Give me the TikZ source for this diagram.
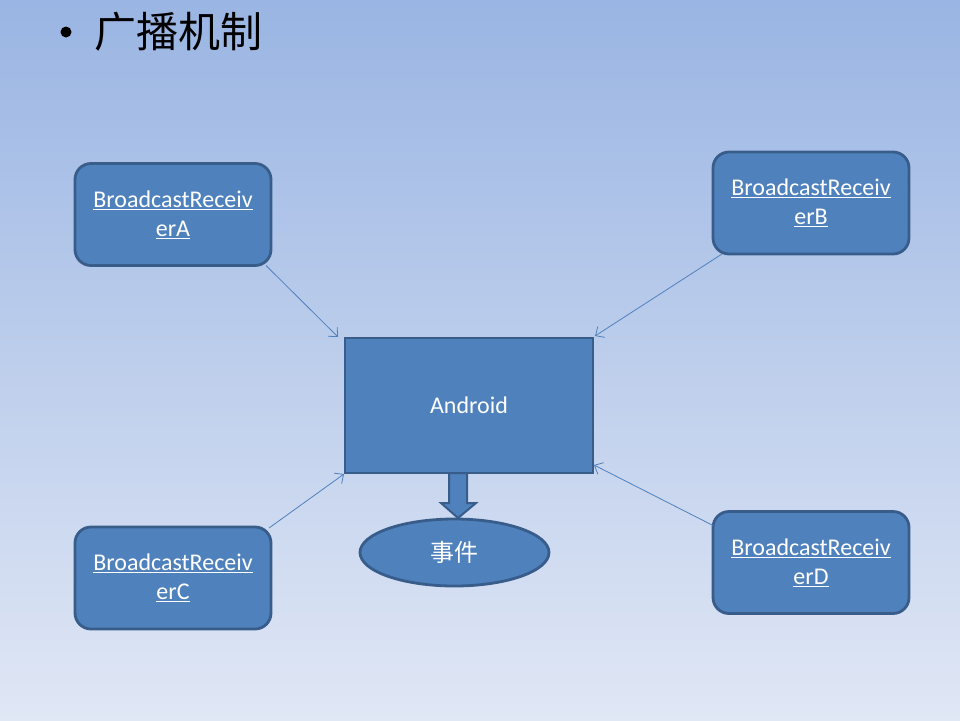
\documentclass[tikz,border=0pt]{standalone}
\usepackage{fontspec}
\setmainfont{Carlito}
\newfontfamily\cjk{Noto Sans CJK SC}
\usetikzlibrary{shapes.geometric,arrows.meta}
\definecolor{boxfill}{HTML}{4F81BD}
\definecolor{boxline}{HTML}{385D8A}
\definecolor{bgtop}{HTML}{9AB5E3}
\definecolor{bgbot}{HTML}{E0E7F5}
\begin{document}
\begin{tikzpicture}[x=1pt,y=-1pt,
  recv/.style={draw=boxline,fill=boxfill,line width=2.8pt,rounded corners=16pt,
    minimum width=196pt,minimum height=102pt,inner sep=0pt,outer sep=0pt,
    text=white,align=center,font=\fontsize{24}{28.8}\selectfont},
  mainbox/.style={draw=boxline,fill=boxfill,line width=2.8pt,
    minimum width=248pt,minimum height=135pt,inner sep=0pt,outer sep=0pt,
    text=white,font=\fontsize{24}{28.8}\selectfont},
  evt/.style={ellipse,draw=boxline,fill=boxfill,line width=2.8pt,
    minimum width=189pt,minimum height=67pt,inner sep=0pt,outer sep=0pt,
    text=white,font=\cjk\fontsize{24}{28.8}\selectfont},
  link/.style={draw=boxfill,line width=0.8pt,-{Straight Barb[length=7pt,width=13pt,line width=0.8pt]}}]
\useasboundingbox (0,0) rectangle (960,720);
\shade[top color=bgtop,bottom color=bgbot] (0,0) rectangle (960,720);
% title
\fill (66,32) circle (5.5pt);
\node[anchor=west,inner sep=0pt,font=\cjk\fontsize{42}{50}\selectfont] (title) at (94,32) {广播机制};
% nodes
\node[recv] (A) at (173,214.5) {\underline{BroadcastReceiv}\\\underline{erA}};
\node[recv] (B) at (811,203) {\underline{BroadcastReceiv}\\\underline{erB}};
\node[recv] (C) at (173,578) {\underline{BroadcastReceiv}\\\underline{erC}};
\node[recv] (D) at (811,562.5) {\underline{BroadcastReceiv}\\\underline{erD}};
\node[mainbox] (And) at (469,405.5) {Android};
\node[evt] (E) at (454.5,552.5) {事件};
% block arrow
\draw[draw=boxline,fill=boxfill,line width=2pt,line join=miter]
  ([xshift=-20pt]And.south) -- ++(0,30) -- ++(-8,0) -- ([xshift=-11pt,yshift=-45pt]And.south)
  -- ([xshift=7pt,yshift=-30pt]And.south) -- ++(-9,0) -- ([xshift=-2pt]And.south) -- cycle;
% connectors
\draw[link] ([xshift=-5pt]A.south east) -- ([xshift=-7pt,yshift=1pt]And.north west);
\draw[link] ([xshift=9pt]B.south west) -- ([xshift=2pt,yshift=2pt]And.north east);
\draw[link] ([xshift=-2pt,yshift=-1pt]C.north east) -- ([xshift=-1pt,yshift=-1pt]And.south west);
\draw[link] ([yshift=-14pt]D.north west) -- ([xshift=1pt,yshift=8pt]And.south east);
\end{tikzpicture}
\end{document}
